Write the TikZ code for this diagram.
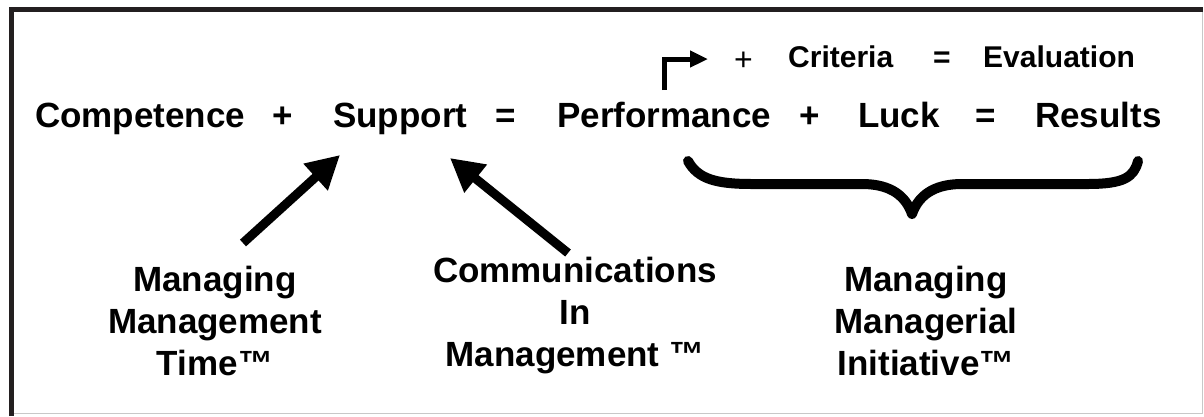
\documentclass[tikz,border=0pt]{standalone}
\usepackage{fontspec}
\setmainfont{Liberation Sans}
\usetikzlibrary{arrows.meta}
\definecolor{framedark}{HTML}{231F20}
\definecolor{framegray}{HTML}{C8C8C8}
\begin{document}
\begin{tikzpicture}[x=1pt,y=-1pt,
  mainw/.style={anchor=base west,inner sep=0pt,font=\fontsize{35}{42}\selectfont\bfseries},
  topw/.style={anchor=base west,inner sep=0pt,font=\fontsize{30}{36}\selectfont\bfseries},
  thinplus/.style={anchor=base west,inner sep=0pt,font=\fontsize{32}{38}\selectfont},
  lbl/.style={align=center,inner sep=0pt,font=\fontsize{35}{42}\selectfont\bfseries},
  bigarrow/.style={line width=9pt,-{Triangle[length=33pt,width=34pt]}},
  cornerarrow/.style={line width=5pt,-{Triangle[length=18pt,width=16pt]}},
  bracestroke/.style={line width=10pt,line cap=round,line join=round}]
\useasboundingbox (0,0) rectangle (1204,416);
% frame
\draw[framegray,line width=1.5pt] (11.5,413.5) -- (1202.5,413.5) -- (1202.5,9.5);
\draw[framedark,line width=5pt] (11.5,416) -- (11.5,9.5) -- (1203,9.5);
% main equation
\node[mainw] (comp) at (35,127) {Competence};
\node[mainw] (p1) at (272,127) {+};
\node[mainw] (supp) at (333,127) {Support};
\node[mainw] (e1) at (495,127) {=};
\node[mainw] (perf) at (557,127) {Performance};
\node[mainw] (p2) at (799,127) {+};
\node[mainw] (luck) at (858,127) {Luck};
\node[mainw] (e2) at (975,127) {=};
\node[mainw] (res) at (1035,127) {Results};
% top line
\node[thinplus] (p3) at (734,70) {+};
\node[topw] (crit) at (788,67) {Criteria};
\node[topw] (e3) at (933,67) {=};
\node[topw] (eval) at (983,67) {Evaluation};
% corner arrow
\coordinate (ca0) at (664,90);
\coordinate (ca1) at (708,59);
\draw[cornerarrow] (ca0) |- (ca1);
% brace
\draw[bracestroke] (688,161) .. controls (698,179) and (716,184) .. (752,184)
  -- (862,184) .. controls (892,184) and (906,197) .. (912,214)
  .. controls (918,197) and (932,184) .. (962,184)
  -- (1088,184) .. controls (1124,184) and (1134,177) .. (1138,161);
% labels
\node[lbl] (mmt) at (215,320.5) {Managing\\Management\\Time™};
\node[lbl] (cim) at (575,316) {Communications\\In\\Management ™};
\node[lbl] (mmi) at (926,320.5) {Managing\\Managerial\\Initiative™};
% arrows
\coordinate (a1s) at (243,243);
\coordinate (a1e) at (340,155);
\coordinate (a2s) at (568,253);
\coordinate (a2e) at (450,158);
\draw[bigarrow] (a1s) -- (a1e);
\draw[bigarrow] (a2s) -- (a2e);
\end{tikzpicture}
\end{document}
